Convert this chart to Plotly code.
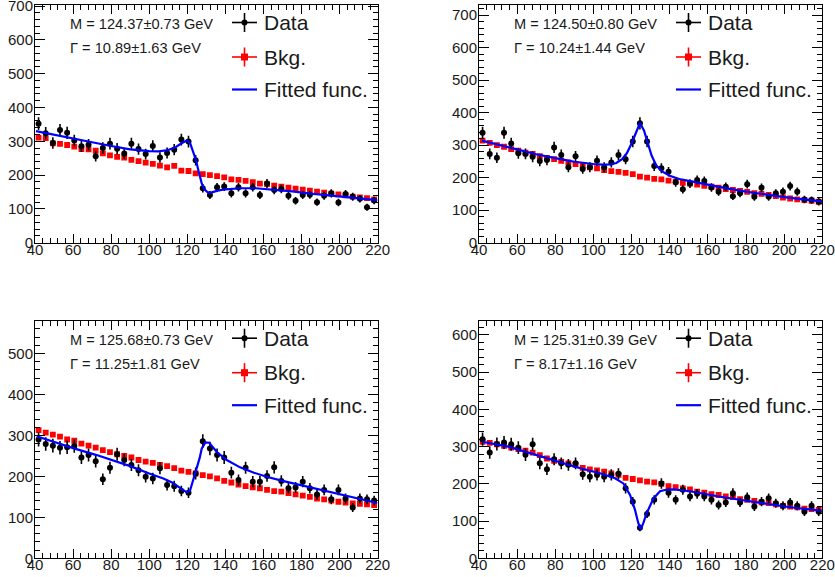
import numpy as np
import plotly.graph_objects as go

# ---------------- data ----------------
x_lo, x_hi, n_bins = 40.0, 220.0, 48
bin_w = (x_hi - x_lo) / n_bins
centers = [x_lo + bin_w * (i + 0.5) for i in range(n_bins)]

data1 = [352, 324, 295, 333, 325, 302, 285, 290, 256, 280, 293, 278, 264, 293, 277, 262, 286, 252, 265, 275,
         305, 299, 244, 161, 141, 164, 166, 146, 164, 146, 164, 141, 175, 156, 159, 139, 124, 141, 142, 120,
         139, 146, 119, 144, 136, 130, 105, 125]
bkg1 = [311, 309, 294, 292, 289, 284, 277, 276, 272, 264, 258, 254, 252, 245, 241, 237, 233, 228, 223, 227,
        213, 212, 205, 203, 200, 197, 193, 187, 186, 183, 179, 175, 173, 169, 166, 163, 160, 157, 154, 151,
        148, 145, 143, 140, 136, 134, 132, 128]
fit1_x = [40.5, 50, 60, 70, 80, 90, 100, 105, 110, 114, 117, 119.7, 121.4, 123, 124.5, 126, 127.6, 129, 130.5,
          132.5, 136, 140, 148, 156, 165, 175, 185, 195, 205, 212, 219.8]
fit1_y = [330, 320, 308, 297, 286, 276, 271, 270, 274, 283, 294, 302, 296, 270, 245, 210, 175, 158, 150,
          148, 154, 158, 161, 161, 157, 152, 145, 139, 133, 129, 126]

data2 = [338, 273, 261, 338, 305, 275, 273, 264, 251, 254, 293, 270, 232, 266, 227, 232, 252, 232, 247, 270,
         257, 311, 367, 311, 236, 229, 218, 186, 164, 182, 193, 190, 170, 157, 172, 143, 152, 180, 141, 169,
         141, 152, 157, 174, 157, 133, 131, 126]
bkg2 = [314, 307, 300, 295, 288, 283, 277, 273, 266, 261, 257, 252, 247, 242, 237, 232, 229, 223, 220, 218,
        215, 211, 203, 200, 196, 195, 191, 188, 184, 182, 179, 175, 172, 169, 165, 162, 159, 156, 152, 150,
        147, 143, 139, 136, 133, 131, 129, 126]
fit2_x = [41.5, 50, 60, 70, 80, 90, 100, 105, 109, 112, 115, 117.5, 120, 122, 124.4, 126.5, 128.5, 130.5, 133,
          136, 140, 145, 150, 160, 170, 180, 190, 200, 210, 219.8]
fit2_y = [314, 301, 285, 272, 260, 249, 242, 240, 241, 245, 257, 275, 305, 335, 368, 345, 305, 268, 237,
          219, 206, 196, 190, 178, 167, 157, 148, 140, 133, 127]

data3 = [290, 279, 275, 270, 271, 274, 246, 252, 237, 193, 221, 254, 240, 228, 215, 199, 195, 220, 179, 176,
         164, 160, 207, 286, 268, 252, 246, 209, 191, 221, 187, 187, 201, 222, 189, 171, 173, 187, 171, 156,
         167, 144, 167, 146, 124, 146, 144, 141]
bkg3 = [313, 307, 302, 297, 290, 287, 280, 275, 270, 264, 259, 254, 250, 246, 240, 236, 233, 228, 225, 220,
        214, 211, 207, 203, 200, 195, 189, 185, 180, 176, 173, 171, 167, 164, 163, 159, 156, 153, 150, 146,
        144, 141, 138, 136, 134, 133, 132, 130]
fit3_x = [40.9, 50, 60, 72.4, 80, 90, 100, 107.4, 112, 116.2, 119.7, 121.4, 123, 124.9, 126.5, 127.6, 129.5,
          131.5, 133.5, 135.4, 140.7, 147.7, 155, 161.7, 170, 179.2, 188, 196.7, 208, 219.8]
fit3_y = [298, 284, 269, 252, 241, 225, 207, 195, 185, 173, 161, 165, 190, 215, 245, 268, 283,
          282, 272, 260, 240, 222, 209, 199, 189, 179, 169, 160, 148, 135]

data4 = [320, 284, 307, 311, 306, 297, 278, 306, 255, 239, 266, 255, 251, 255, 226, 219, 224, 219, 224, 227,
         188, 152, 82, 119, 157, 201, 176, 157, 184, 166, 173, 166, 157, 143, 150, 175, 150, 164, 139, 152,
         161, 148, 141, 150, 141, 125, 141, 125]
bkg4 = [313, 310, 306, 302, 297, 293, 289, 284, 277, 268, 262, 259, 255, 251, 243, 239, 236, 233, 228, 224,
        216, 213, 209, 206, 204, 200, 194, 191, 188, 185, 179, 176, 172, 170, 166, 164, 159, 157, 154, 150,
        148, 145, 141, 139, 137, 133, 132, 130]
fit4_x = [41.7, 55.4, 72.9, 90.3, 104.3, 111.3, 115.7, 119.2, 121.8, 123.5, 124.8, 126.2, 127.9, 131.4, 134.9,
          138, 141.9, 150.6, 168.1, 185.6, 203.1, 219.5]
fit4_y = [313, 300, 273, 246, 227, 215, 201, 170, 130, 95, 78, 95, 121, 160, 180,
          184, 185, 180, 164, 150, 137, 128]

mass_labels = ["M = 124.37\u00b10.73 GeV", "M = 124.50\u00b10.80 GeV",
               "M = 125.68\u00b10.73 GeV", "M = 125.31\u00b10.39 GeV"]
width_labels = ["\u0393 = 10.89\u00b11.63 GeV", "\u0393 = 10.24\u00b11.44 GeV",
                "\u0393 = 11.25\u00b11.81 GeV", "\u0393 = 8.17\u00b11.16 GeV"]
legend_labels = ["Data", "Bkg.", "Fitted func."]
y_max = [703, 731, 580, 638]
x_ticks = [40, 60, 80, 100, 120, 140, 160, 180, 200, 220]

panels = [(data1, bkg1, fit1_x, fit1_y), (data2, bkg2, fit2_x, fit2_y),
          (data3, bkg3, fit3_x, fit3_y), (data4, bkg4, fit4_x, fit4_y)]

# ---------------- layout geometry (pixels) ----------------
W, H = 835, 577
px_left = [35.0, 479.0, 35.0, 479.0]
px_right = [377.7, 822.3, 377.7, 822.3]
px_top = [5.0, 5.0, 320.7, 320.7]
px_bot = [242.7, 242.7, 558.3, 558.3]

FONT = "Liberation Sans, Arial, Helvetica, sans-serif"
TXT = "#1a1a1a"


def xp(px):
    return px / W


def yp(py):
    return 1 - py / H


fig = go.Figure()
layout = dict(width=W, height=H, margin=dict(l=0, r=0, t=0, b=0, autoexpand=False),
              paper_bgcolor="white", plot_bgcolor="white", showlegend=False,
              font=dict(family=FONT, color="black"))

shapes = []
annotations = []

for k, (dat, bkg, fx, fy) in enumerate(panels):
    suffix = "" if k == 0 else str(k + 1)
    xa, ya = "x" + suffix, "y" + suffix
    err = np.sqrt(np.array(dat, dtype=float))
    fig.add_trace(go.Scatter(x=centers, y=bkg, mode="markers", xaxis=xa, yaxis=ya,
                             marker=dict(symbol="square", size=5.8, color="#ff0000",
                                         line=dict(width=0))))
    fig.add_trace(go.Scatter(x=centers, y=dat, mode="markers", xaxis=xa, yaxis=ya,
                             marker=dict(symbol="circle", size=6, color="black"),
                             error_y=dict(type="data", array=err, visible=True,
                                          color="black", thickness=1.6, width=0)))
    fig.add_trace(go.Scatter(x=fx, y=fy, mode="lines", xaxis=xa, yaxis=ya,
                             line=dict(color="#0000ff", width=2.2)))

    xkey = "xaxis" + suffix
    ykey = "yaxis" + suffix
    layout[xkey] = dict(domain=[xp(px_left[k]), xp(px_right[k])], range=[x_lo, x_hi],
                        anchor=ya, showgrid=False, zeroline=False, automargin=False,
                        showline=True, linecolor="black", linewidth=1, mirror="allticks",
                        ticks="inside", ticklen=9, tickwidth=1, tickcolor="black",
                        tickvals=x_ticks, ticklabelstandoff=-7, ticklabeloverflow="allow",
                        tickfont=dict(family=FONT, size=15, color=TXT),
                        minor=dict(dtick=4, tick0=40, ticks="inside", ticklen=5,
                                   tickcolor="black", showgrid=False))
    layout[ykey] = dict(domain=[yp(px_bot[k]), yp(px_top[k])], range=[0, y_max[k]],
                        anchor=xa, showgrid=False, zeroline=False, automargin=False,
                        showline=True, linecolor="black", linewidth=1, mirror="allticks",
                        ticks="inside", ticklen=10, tickwidth=1, tickcolor="black",
                        dtick=100, tick0=0, ticklabelstandoff=-2, ticklabeloverflow="allow",
                        tickfont=dict(family=FONT, size=15, color=TXT),
                        minor=dict(dtick=20, ticks="inside", ticklen=5,
                                   tickcolor="black", showgrid=False))

    x0, y0 = px_left[k], px_top[k]
    # fit-result texts
    annotations.append(dict(xref="paper", yref="paper", x=xp(x0 + 33), y=yp(y0 + 19),
                            text=mass_labels[k], showarrow=False, xanchor="left", yanchor="middle",
                            font=dict(family=FONT, size=14.6, color=TXT)))
    annotations.append(dict(xref="paper", yref="paper", x=xp(x0 + 33), y=yp(y0 + 43),
                            text=width_labels[k], showarrow=False, xanchor="left", yanchor="middle",
                            font=dict(family=FONT, size=14.6, color=TXT)))
    # custom ROOT-style legend
    rows = [y0 + 17.5, y0 + 52, y0 + 84.5]
    for r, lab in zip(rows, legend_labels):
        annotations.append(dict(xref="paper", yref="paper", x=xp(x0 + 227), y=yp(r),
                                text=lab, showarrow=False, xanchor="left", yanchor="middle",
                                font=dict(family=FONT, size=21, color=TXT)))
    cx = x0 + 209.5
    # Data symbol
    shapes.append(dict(type="line", xref="paper", yref="paper", x0=xp(x0 + 197), x1=xp(x0 + 222),
                       y0=yp(rows[0]), y1=yp(rows[0]), line=dict(color="black", width=1.6)))
    shapes.append(dict(type="line", xref="paper", yref="paper", x0=xp(cx), x1=xp(cx),
                       y0=yp(rows[0] - 9.5), y1=yp(rows[0] + 9.5), line=dict(color="black", width=1.6)))
    shapes.append(dict(type="circle", xref="paper", yref="paper", x0=xp(cx - 3), x1=xp(cx + 3),
                       y0=yp(rows[0] - 3), y1=yp(rows[0] + 3), fillcolor="black",
                       line=dict(color="black", width=0)))
    # Bkg symbol
    shapes.append(dict(type="line", xref="paper", yref="paper", x0=xp(x0 + 197), x1=xp(x0 + 222),
                       y0=yp(rows[1]), y1=yp(rows[1]), line=dict(color="#ff0000", width=1.6)))
    shapes.append(dict(type="line", xref="paper", yref="paper", x0=xp(cx), x1=xp(cx),
                       y0=yp(rows[1] - 9.5), y1=yp(rows[1] + 9.5), line=dict(color="#ff0000", width=1.6)))
    shapes.append(dict(type="rect", xref="paper", yref="paper", x0=xp(cx - 3.5), x1=xp(cx + 3.5),
                       y0=yp(rows[1] - 3.5), y1=yp(rows[1] + 3.5), fillcolor="#ff0000",
                       line=dict(color="#ff0000", width=0)))
    # Fitted func symbol
    shapes.append(dict(type="line", xref="paper", yref="paper", x0=xp(x0 + 197), x1=xp(x0 + 222),
                       y0=yp(rows[2]), y1=yp(rows[2]), line=dict(color="#0000ff", width=2.2)))

layout["shapes"] = shapes
layout["annotations"] = annotations
fig.update_layout(**layout)
fig.write_html("out.html")
